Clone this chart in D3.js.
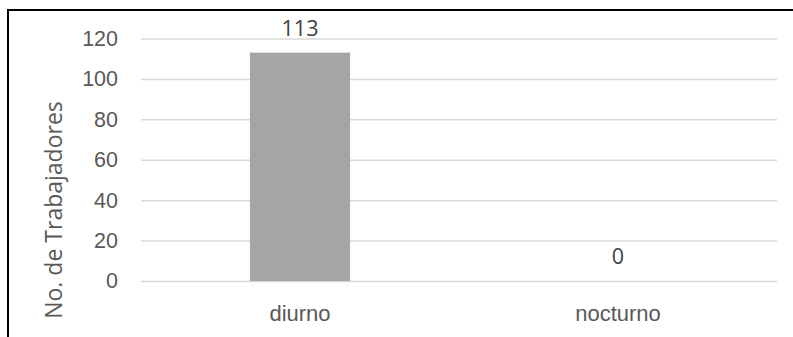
<!doctype html>
<html>
  <head>
    <script src="https://cdnjs.cloudflare.com/ajax/libs/d3/7.8.5/d3.min.js"></script>
  <style>
    body { margin: 0; background: #fff; }
    svg { display: block; font-family: "Open Sans", sans-serif; }
    .tick text { fill: #595959; font-size: 21.5px; }
    path.domain { stroke: none; }
  </style>
  </head>
  <body>
    <svg width="793" height="337"></svg>
    <script>
      var categories = ["diurno", "nocturno"];
      var workers = [113, 0];
      var yTicks = [0, 20, 40, 60, 80, 100, 120];
      var yTitle = "No. de Trabajadores";

      var svg = d3.select("svg");
      var plotL = 141, plotR = 777, plotT = 38.5, plotB = 281;

      var xScale = d3.scaleBand().domain(categories).range([plotL, plotR])
        .paddingInner(0.685).paddingOuter(0.3425);
      var yScale = d3.scaleLinear().domain([0, 120]).range([plotB, plotT]);

      // frame (only top and left edges show)
      svg.append("line").attr("x1", 8).attr("x2", 793).attr("y1", 10).attr("y2", 10)
        .attr("stroke", "#000").attr("stroke-width", 2);
      svg.append("line").attr("x1", 8).attr("x2", 8).attr("y1", 9).attr("y2", 337)
        .attr("stroke", "#000").attr("stroke-width", 2);

      // gridlines + labels
      var yAxis = d3.axisLeft(yScale)
        .tickValues(yTicks)
        .tickSize(-(plotR - plotL))
        .tickPadding(23);
      var yG = svg.append("g").attr("transform", "translate(" + plotL + ",0)").call(yAxis);
      yG.selectAll(".tick line").attr("stroke", "#d9d9d9").attr("stroke-width", 1.5);

      var xAxis = d3.axisBottom(xScale).tickSize(0).tickPadding(24);
      var xG = svg.append("g").attr("transform", "translate(0," + plotB + ")").call(xAxis);
      xG.selectAll(".tick text").style("font-size", "22px");

      svg.selectAll("rect.bar")
        .data(workers)
        .enter()
        .append("rect")
          .attr("class", "bar")
          .attr("x", (d, i) => xScale(categories[i]))
          .attr("width", xScale.bandwidth())
          .attr("y", d => yScale(d))
          .attr("height", d => yScale(0) - yScale(d))
          .style("fill", "#a5a5a5");

      svg.selectAll("text.val")
        .data(workers)
        .enter()
        .append("text")
          .attr("class", "val")
          .attr("x", (d, i) => xScale(categories[i]) + xScale.bandwidth() / 2)
          .attr("y", d => yScale(d) - 17)
          .attr("text-anchor", "middle")
          .style("fill", "#404040")
          .style("font-size", "21.5px")
          .text(d => d);

      svg.append("text")
        .attr("transform", "translate(62,210) rotate(-90)")
        .attr("text-anchor", "middle")
        .style("fill", "#595959")
        .style("font-size", "23px")
        .text(yTitle);
    </script>
  </body>
</html>
